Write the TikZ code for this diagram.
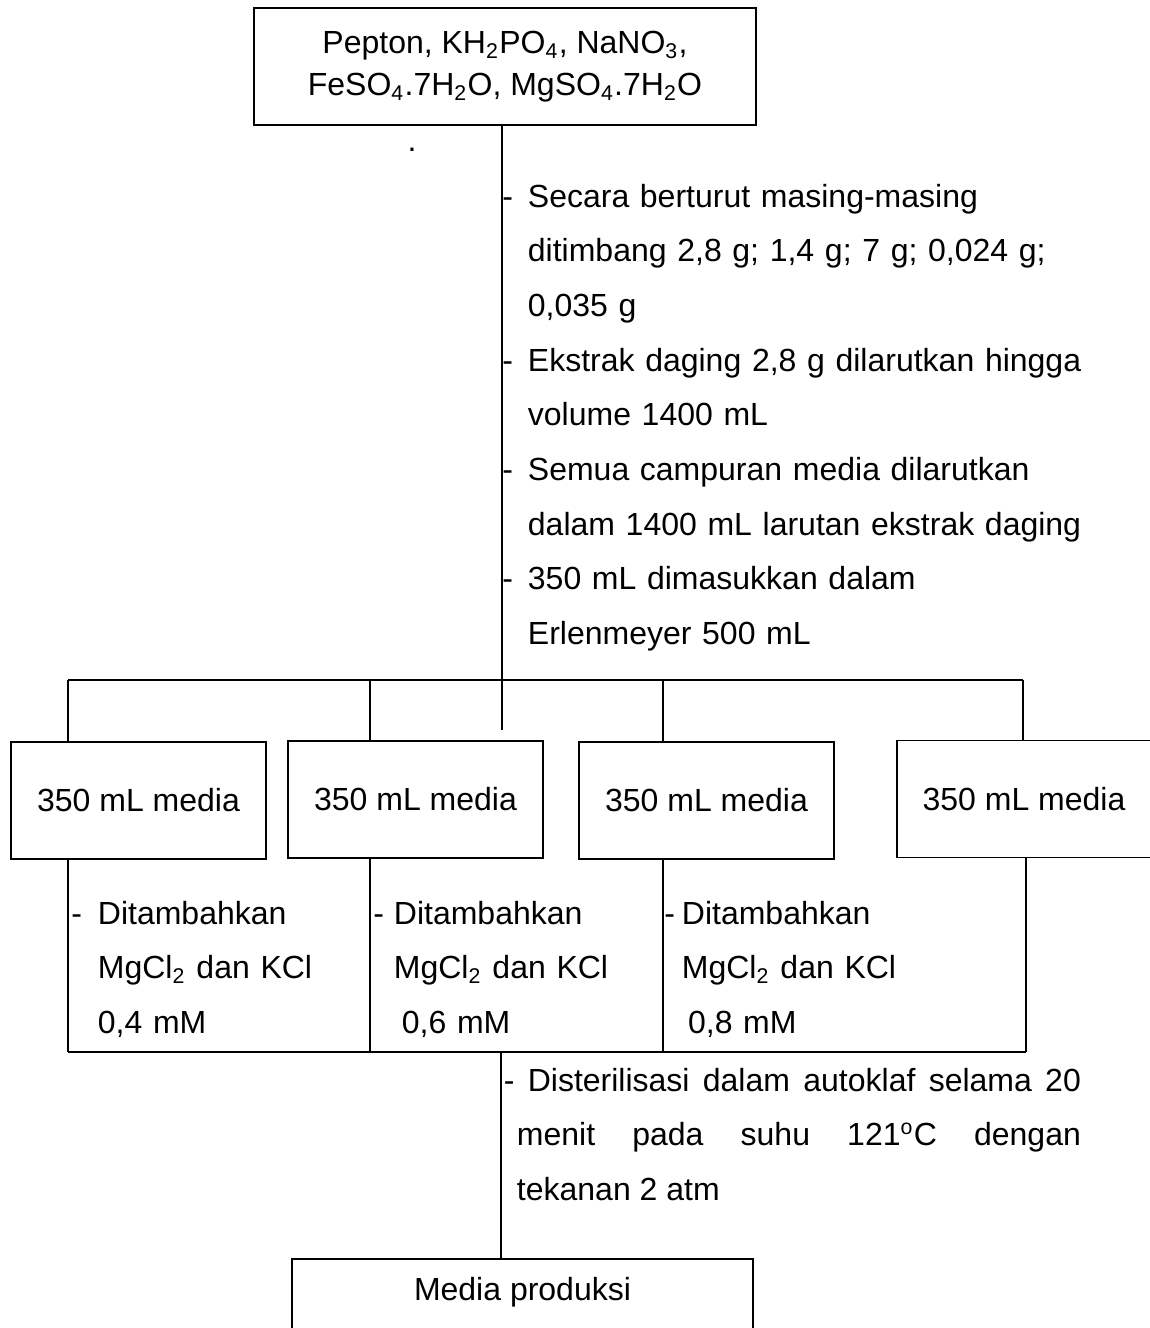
\documentclass[tikz,border=0pt]{standalone}
\usepackage{fontspec}
\setmainfont{Liberation Sans}
\newcommand\hy[1]{\leavevmode\llap{-\hspace{#1}}}

\begin{document}
\begin{tikzpicture}[x=0.375pt,y=-0.375pt,line width=0.7pt,
  box/.style={draw,inner sep=0pt,align=center,minimum height=43.9pt,font=\fontsize{12}{15.75}\selectfont},
  txt/.style={inner sep=0pt,anchor=base west,align=left,font=\fontsize{12}{20.5}\selectfont}]
\useasboundingbox (0,0) rectangle (1149,1328);
\node[box,minimum width=188.25pt] (bahan) at (505,66.5) {Pepton, KH\textsubscript{2}PO\textsubscript{4}, NaNO\textsubscript{3},\\FeSO\textsubscript{4}.7H\textsubscript{2}O, MgSO\textsubscript{4}.7H\textsubscript{2}O};
\node[anchor=base,inner sep=0pt,font=\fontsize{12}{14}\selectfont] (titik) at (412,151) {.};
\coordinate (c1) at (502,730);
\draw (c1 |- bahan.south) -- (c1);
\node[txt,text width=233pt] (langkah) at (527,207) {\hy{5.6pt}Secara berturut masing-masing\\ditimbang 2,8 g; 1,4 g; 7 g; 0,024 g;\\0,035 g\\\hy{5.6pt}Ekstrak daging 2,8 g dilarutkan hingga\\volume 1400 mL\\\hy{5.6pt}Semua campuran media dilarutkan\\dalam 1400 mL larutan ekstrak daging\\\hy{5.6pt}350 mL dimasukkan dalam\\Erlenmeyer 500 mL};
\coordinate (b1) at (68,680);
\coordinate (b2) at (370,680);
\coordinate (b3) at (663,680);
\coordinate (b4) at (1023,680);
\draw (b1) -- (b4);
\node[box,minimum width=95.6pt] (m1) at (138.5,800.5) {350 mL media};
\node[box,minimum width=95.6pt] (m2) at (415.5,799.5) {350 mL media};
\node[box,minimum width=95.6pt] (m3) at (706.5,800.5) {350 mL media};
\node[box,minimum width=95.3pt] (m4) at (1024,799) {350 mL media};
\foreach \i in {1,...,4} \draw (b\i) -- (b\i |- m\i.north);
\coordinate (d1) at (68,1052);
\coordinate (d2) at (370,1052);
\coordinate (d3) at (663,1052);
\coordinate (d4) at (1026,1052);
\foreach \i in {1,...,4} \draw (d\i |- m\i.south) -- (d\i);
\draw (d1) -- (d4);
\node[txt,text width=85pt] (k1) at (97,924) {\hy{6pt}Ditambahkan\\MgCl\textsubscript{2} dan KCl\\0,4 mM};
\node[txt,text width=85pt] (k2) at (393,924) {\hy{3.75pt}Ditambahkan\\MgCl\textsubscript{2} dan KCl\\\hspace*{3pt}0,6 mM};
\node[txt,text width=85pt] (k3) at (681,924) {\hy{2.6pt}Ditambahkan\\MgCl\textsubscript{2} dan KCl\\\hspace*{2.3pt}0,8 mM};
\coordinate (c2) at (501,1052);
\node[txt,text width=211.5pt,align=justify] (steril) at (516,1091) {\hspace*{-4.9pt}- Disterilisasi dalam autoklaf selama 20\linebreak menit pada suhu 121\textsuperscript{o}C dengan\linebreak tekanan 2 atm};
\node[box,minimum width=172.9pt,minimum height=0pt,anchor=north,text height=15.4pt,text depth=27.4pt] (produksi) at (522.5,1258) {Media produksi};
\draw (c2) -- (c2 |- produksi.north);
\end{tikzpicture}
\end{document}
